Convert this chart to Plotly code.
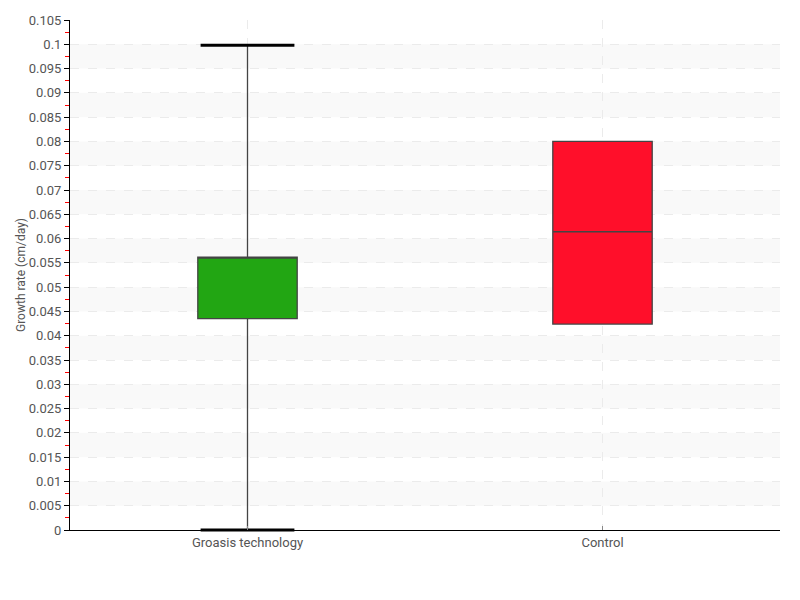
import plotly.graph_objects as go

categories = ["Groasis technology", "Control"]
q1 = [0.0435, 0.0424]
median = [0.0560, 0.0614]
q3 = [0.0562, 0.0800]
lowerfence = [0.0, 0.0424]
upperfence = [0.0998, 0.0800]
colors = ["#22a613", "#ff0f2a"]
y_ticks = [round(i * 0.005, 3) for i in range(22)]
y_tick_labels = [("%g" % v) for v in y_ticks]

FONT = "Roboto, sans-serif"

fig = go.Figure()
for i, cat in enumerate(categories):
    fig.add_trace(go.Box(
        x=[cat], q1=[q1[i]], median=[median[i]], q3=[q3[i]],
        lowerfence=[lowerfence[i]], upperfence=[upperfence[i]],
        fillcolor=colors[i], line=dict(color="#444444", width=1.3),
        whiskerwidth=0, width=0.28, boxpoints=False, showlegend=False,
        hoverinfo="skip",
    ))
    caps = [v for v, b in ((lowerfence[i], q1[i]), (upperfence[i], q3[i])) if v != b]
    if caps:
        fig.add_trace(go.Scatter(
            x=[cat] * len(caps), y=caps, mode="markers",
            marker=dict(symbol="line-ew", size=67, line=dict(color="black", width=3)),
            showlegend=False, hoverinfo="skip", cliponaxis=False,
        ))

for k in range(len(y_ticks) - 1):
    if k % 2 == 1:
        fig.add_shape(type="rect", xref="paper", yref="y", x0=0, x1=1,
                      y0=y_ticks[k], y1=y_ticks[k + 1],
                      fillcolor="#f9f9f9", line=dict(width=0), layer="below")

fig.update_layout(
    width=800, height=600,
    margin=dict(l=62, r=28, t=12, b=78),
    plot_bgcolor="white", paper_bgcolor="white",
    font=dict(family=FONT, size=13, color="#555555"),
    xaxis=dict(
        type="category", range=[-0.5, 1.5], automargin=False,
        showline=True, linecolor="black", linewidth=1,
        showgrid=True, gridcolor="#ebebeb", griddash="dash", gridwidth=1,
        ticks="inside", ticklen=4, tickcolor="#888888",
        tickfont=dict(size=13, color="#555555"),
        zeroline=False,
    ),
    yaxis=dict(
        range=[0, 0.105], tickvals=y_ticks, ticktext=y_tick_labels, automargin=False,
        showline=True, linecolor="black", linewidth=1,
        showgrid=True, gridcolor="#ebebeb", griddash="dash", gridwidth=1,
        ticks="outside", ticklen=5, tickcolor="black",
        tickfont=dict(size=13, color="#555555"),
        minor=dict(tickvals=[v + 0.0025 for v in y_ticks[:-1]], ticks="outside",
                   ticklen=4, tickcolor="red", showgrid=False),
        zeroline=False,
        title=dict(text="Growth rate (cm/day)", font=dict(size=12, color="#555555"), standoff=0),
    ),
)

fig.write_html("out.html")
